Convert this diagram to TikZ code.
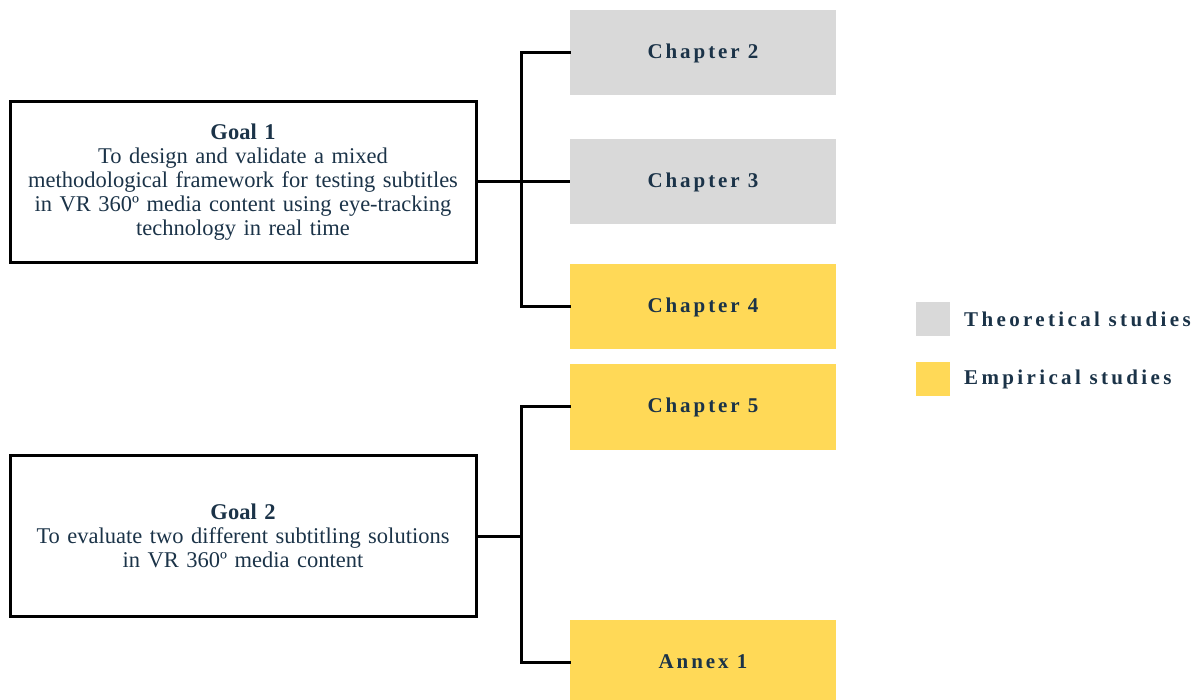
\documentclass[tikz,border=0pt]{standalone}
\usepackage{fontspec}
\setmainfont{Liberation Serif}
\newfontfamily\chapfont[LetterSpace=14]{Liberation Serif}
\newfontfamily\keyfont[LetterSpace=16]{Liberation Serif}
\definecolor{inkblue}{HTML}{1B3348}
\definecolor{theorygray}{HTML}{D9D9D9}
\definecolor{empiricyellow}{HTML}{FFD957}
\tikzset{
  x=1pt, y=-1pt,
  goalbox/.style={draw=black, line width=3pt, minimum width=466pt, minimum height=161pt,
    text width=460pt, align=center, text=inkblue, font=\fontsize{22.5}{24}\selectfont, inner sep=0pt},
  chapbox/.style={minimum width=266pt, minimum height=85pt, inner sep=0pt,
    text=inkblue, font=\chapfont\bfseries\fontsize{21}{24}\selectfont},
  legendkey/.style={minimum width=34pt, minimum height=34pt, inner sep=0pt},
  legendtext/.style={anchor=west, inner sep=0pt, text=inkblue,
    font=\keyfont\bfseries\fontsize{21}{24}\selectfont},
  link/.style={line width=3pt, black}
}
\begin{document}
\begin{tikzpicture}
\useasboundingbox (0,0) rectangle (1197,700);
% goal boxes
\node[goalbox] (g1) at (243,182) {\textbf{Goal 1}\\To design and validate a mixed\\methodological framework for testing subtitles\\in VR 360º media content using eye-tracking\\technology in real time};
\node[goalbox] (g2) at (243,536) {\textbf{Goal 2}\\To evaluate two different subtitling solutions\\in VR 360º media content};
% chapter boxes
\node[chapbox, fill=theorygray] (c2) at (703,53) {Chapter 2};
\node[chapbox, fill=theorygray] (c3) at (703,182) {Chapter 3};
\node[chapbox, fill=empiricyellow] (c4) at (703,307) {Chapter 4};
\node[chapbox, fill=empiricyellow] (c5) at (703,407) {Chapter 5};
\node[chapbox, fill=empiricyellow, minimum height=84pt] (a1) at (703,662) {Annex 1};
% brackets
\coordinate (j1) at (521,182);
\coordinate (j2) at (521,536);
\draw[link] (g1.east) -- (c3.west);
\draw[link, line cap=rect] (c2.west) -| (j1) |- (c4.west);
\draw[link] (g2.east) -- (j2);
\draw[link, line cap=rect] (c5.west) -| (j2) |- (a1.west);
% legend
\node[legendkey, fill=theorygray] (k1) at (933,319) {};
\node[legendkey, fill=empiricyellow] (k2) at (933,379) {};
\node[legendtext] (t1) at (964,319) {Theoretical studies};
\node[legendtext] (t2) at (964,379) {Empirical studies};
\end{tikzpicture}
\end{document}
